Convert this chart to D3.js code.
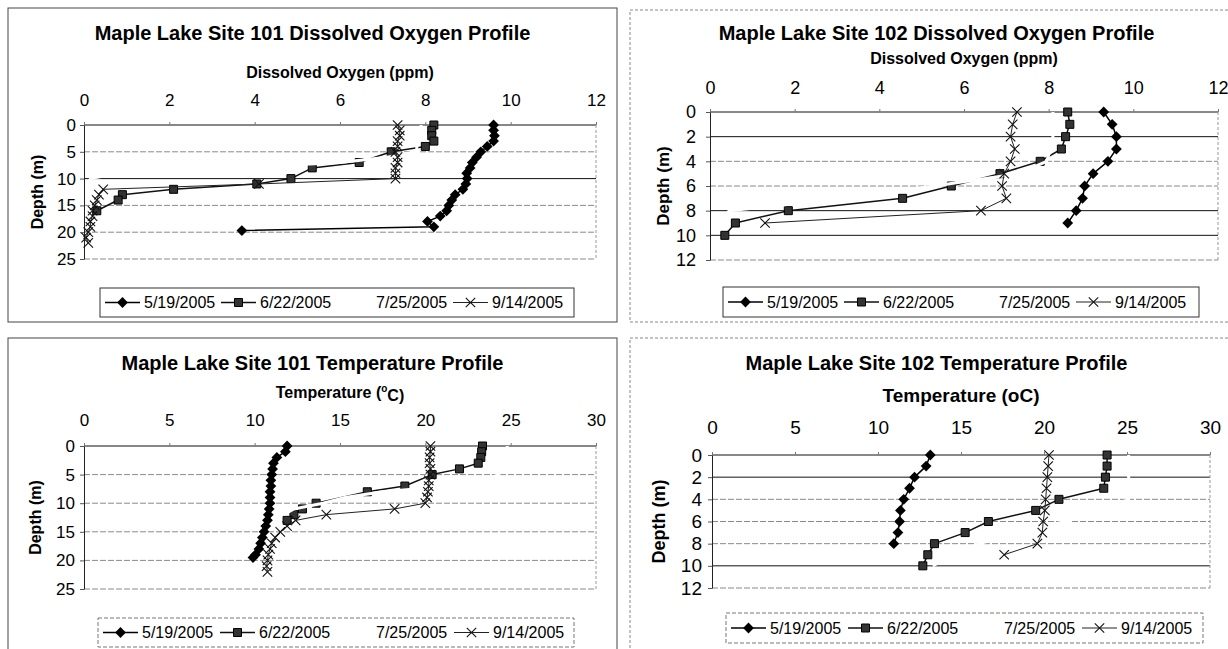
<!DOCTYPE html>
<html>
<head>
<meta charset="utf-8">
<script src="https://cdn.jsdelivr.net/npm/d3@7"></script>
<style>
    body { margin: 0; background: #fff; }
    svg { display: block; font-family: "Liberation Sans", Arial, sans-serif; }
</style>
</head>
<body>
<div id="chart"></div>
<script>
var seriesNames = ["5/19/2005", "6/22/2005", "7/25/2005", "9/14/2005"];

// [depth (m), value] pairs
// Site 101 dissolved oxygen (ppm)
var do101May = [[0,9.6],[1,9.6],[2,9.62],[3,9.6],[4,9.45],[5,9.3],[6,9.2],[7,9.1],[8,9.05],[9,8.97],
    [10,8.98],[11,8.95],[12,8.88],[13,8.7],[14,8.62],[15,8.55],[16,8.5],[17,8.35],[18,8.05],[19,8.2],[19.7,3.7]];
var do101Jun = [[0,8.2],[1,8.15],[2,8.15],[3,8.2],[4,8.0],[5,7.2],[7,6.45],[8,5.35],[10,4.85],[11,4.05],
    [12,2.1],[13,0.9],[14,0.8],[16,0.3]];
var do101Jul = [[0,7.9],[1,7.9],[2,7.9],[3,7.85],[4,7.8],[5,7.8],[6,7.1],[7,6.0],[8,3.5],[9,0.8],[10,0.15],[11,0.1],[12,0.1]];
var do101Sep = [[0,7.35],[1,7.4],[2,7.4],[3,7.35],[4,7.35],[5,7.3],[6,7.35],[7,7.35],[8,7.3],[9,7.3],[10,7.3],
    [11,4.1],[12,0.45],[13,0.35],[14,0.3],[15,0.25],[16,0.2],[17,0.2],[18,0.15],[19,0.15],[20,0.1],[21,0.05],[22,0.1]];

// Site 102 dissolved oxygen (ppm)
var do102May = [[0,9.3],[1,9.5],[2,9.6],[3,9.6],[4,9.4],[5,9.05],[6,8.85],[7,8.8],[8,8.65],[9,8.45]];
var do102Jun = [[0,8.45],[1,8.5],[2,8.4],[3,8.3],[4,7.8],[5,6.85],[6,5.7],[7,4.55],[8,1.85],[9,0.6],[10,0.35]];
var do102Jul = [[0,8.1],[1,8.1],[2,8.1],[3,8.05],[4,7.95],[5,7.3],[6,5.3],[7,3.2],[8,0.45],[9,0.3]];
var do102Sep = [[0,7.25],[1,7.15],[2,7.1],[3,7.2],[4,7.1],[5,6.95],[6,6.9],[7,7.0],[8,6.4],[9,1.3]];

// Site 101 temperature (C)
var temp101May = [[0,11.9],[1,11.8],[2,11.3],[3,11.1],[4,11.05],[5,11.0],[6,10.95],[7,10.95],[8,10.9],[9,10.9],
    [10,10.9],[11,10.85],[12,10.8],[13,10.75],[14,10.65],[15,10.55],[16,10.45],[17,10.35],[18,10.25],[19,10.05],[19.5,9.9]];
var temp101Jun = [[0,23.35],[1,23.3],[2,23.25],[3,23.1],[4,22.0],[5,20.4],[7,18.8],[8,16.6],[10,13.6],[11,12.8],[12,12.3],[13,11.9]];
var temp101Jul = [[0,24.8],[1,24.8],[2,24.7],[3,24.6],[4,24.5],[5,24.3],[6,23.5],[7,21.5],[8,17.5],[9,15.3],[10,14.0],[11,12.3],[12,11.7]];
var temp101Sep = [[0,20.3],[1,20.3],[2,20.25],[3,20.25],[4,20.3],[5,20.3],[6,20.2],[7,20.2],[8,20.15],[9,20.1],[10,20.0],
    [11,18.2],[12,14.2],[13,12.4],[14,11.9],[15,11.5],[16,11.2],[17,11.0],[18,10.9],[19,10.8],[20,10.75],[21,10.7],[22,10.75]];

// Site 102 temperature (C)
var temp102May = [[0,13.15],[1,12.9],[2,12.2],[3,11.9],[4,11.55],[5,11.35],[6,11.3],[7,11.2],[8,10.95]];
var temp102Jun = [[0,23.8],[1,23.8],[2,23.7],[3,23.6],[4,20.9],[5,19.5],[6,16.65],[7,15.25],[8,13.4],[9,13.0],[10,12.7]];
var temp102Jul = [[0,25.1],[1,25.1],[2,25.1],[3,25.1],[4,25.1],[5,23.5],[6,21.3],[7,18.5],[8,16.1],[9,14.5],[10,13.3]];
var temp102Sep = [[0,20.3],[1,20.25],[2,20.2],[3,20.15],[4,20.1],[5,20.05],[6,19.95],[7,19.9],[8,19.6],[9,17.6]];

var doTicks = [0, 2, 4, 6, 8, 10, 12];
var tempTicks = [0, 5, 10, 15, 20, 25, 30];
var depthTicks101 = [0, 5, 10, 15, 20, 25];
var depthTicks102 = [0, 2, 4, 6, 8, 10, 12];

var width = 1228, height = 649;

var svg = d3.select("#chart")
    .append("svg")
    .attr("width", width)
    .attr("height", height);

var panels = [
    {
        title: "Maple Lake Site 101 Dissolved Oxygen Profile", xTitle: ["Dissolved Oxygen (ppm)"],
        xTicks: doTicks, yTicks: depthTicks101, series: [do101May, do101Jun, do101Jul, do101Sep],
        frame: [8, 8, 617, 322], frameStroke: "#444", frameDash: null,
        plot: [84, 125, 596, 259], darkGrid: [0, 10],
        titleY: 33, xTitleY: 72, tickY: 100, depthX: 37, yPad: 4,
        legend: [100, 288, 574, 317], legendStep: 116, legendDash: null,
        fs: { title: 20, xTitle: 16, tick: 17, depth: 16 }
    },
    {
        title: "Maple Lake Site 102 Dissolved Oxygen Profile", xTitle: ["Dissolved Oxygen (ppm)"],
        xTicks: doTicks, yTicks: depthTicks102, series: [do102May, do102Jun, do102Jul, do102Sep],
        frame: [630, 10, 1243, 322], frameStroke: "#888", frameDash: "3,2",
        plot: [710, 112, 1218, 260], darkGrid: [0, 2, 8, 10],
        titleY: 33, xTitleY: 58, tickY: 88, depthX: 663, yPad: 10,
        legend: [723, 287, 1199, 317], legendStep: 116, legendDash: null,
        fs: { title: 20, xTitle: 16, tick: 18, depth: 17 }
    },
    {
        title: "Maple Lake Site 101 Temperature Profile", xTitle: ["Temperature (", "o", "C)"],
        xTicks: tempTicks, yTicks: depthTicks101, series: [temp101May, temp101Jun, temp101Jul, temp101Sep],
        frame: [8, 338, 617, 660], frameStroke: "#444", frameDash: null,
        plot: [84, 446, 596, 589], darkGrid: [0],
        titleY: 363, xTitleY: 392, tickY: 420, depthX: 35, yPad: 5,
        legend: [98, 618, 574, 647], legendStep: 117, legendDash: "4,2",
        fs: { title: 20, xTitle: 16, tick: 17, depth: 16 }
    },
    {
        title: "Maple Lake Site 102 Temperature Profile", xTitle: ["Temperature (oC)"],
        xTicks: tempTicks, yTicks: depthTicks102, series: [temp102May, temp102Jun, temp102Jul, temp102Sep],
        frame: [630, 338, 1243, 660], frameStroke: "#888", frameDash: "3,2",
        plot: [712, 455, 1210, 588], darkGrid: [0, 2, 10],
        titleY: 363, xTitleY: 395, tickY: 427, depthX: 659, yPad: 6,
        legend: [726, 613, 1203, 643], legendStep: 117, legendDash: "4,2",
        fs: { title: 20, xTitle: 19, tick: 19, depth: 18 }
    }
];

// one style per date: diamond, square, plain white line, x
var seriesStyle = [
    { stroke: "#000", width: 1.5, marker: "diamond" },
    { stroke: "#111", width: 1.5, marker: "square" },
    { stroke: "#fff", width: 3, marker: null },
    { stroke: "#222", width: 1, marker: "x" }
];

function markerPath(type) {
    if (type == "diamond") return d3.symbol(d3.symbolSquare, 58)();
    if (type == "square") return d3.symbol(d3.symbolSquare, 64)();
    return d3.symbol(d3.symbolX, 60)();
}

function addMarker(g, type, px, py) {
    var m = g.append("path")
        .attr("d", markerPath(type))
        .attr("transform", "translate(" + px + "," + py + ")" + (type == "diamond" ? " rotate(45)" : ""));
    if (type == "x") {
        m.attr("fill", "none").attr("stroke", "#111").attr("stroke-width", 1.1);
    } else if (type == "square") {
        m.attr("fill", "#333").attr("stroke", "#000").attr("stroke-width", 1);
    } else {
        m.attr("fill", "#000");
    }
}

function drawPanel(p) {
    var g = svg.append("g");
    var xMax = p.xTicks[p.xTicks.length - 1],
        yMax = p.yTicks[p.yTicks.length - 1];

    var x = d3.scaleLinear().domain([0, xMax]).range([p.plot[0], p.plot[2]]);
    var y = d3.scaleLinear().domain([0, yMax]).range([p.plot[1], p.plot[3]]);

    g.append("rect")
        .attr("x", p.frame[0]).attr("y", p.frame[1])
        .attr("width", p.frame[2] - p.frame[0])
        .attr("height", p.frame[3] - p.frame[1])
        .attr("fill", "none")
        .attr("stroke", p.frameStroke)
        .attr("stroke-dasharray", p.frameDash);

    // gridlines (scan makes some black, some grey dashed)
    g.selectAll(".grid")
        .data(p.yTicks)
        .enter().append("line")
        .attr("class", "grid")
        .attr("x1", x(0)).attr("x2", x(xMax))
        .attr("y1", function(d) { return y(d) })
        .attr("y2", function(d) { return y(d) })
        .attr("stroke", function(d) { return p.darkGrid.indexOf(d) >= 0 ? "#111" : "#8a8a8a" })
        .attr("stroke-dasharray", function(d) { return p.darkGrid.indexOf(d) >= 0 ? null : "6,2" });

    g.append("line")
        .attr("x1", x(xMax)).attr("x2", x(xMax))
        .attr("y1", y(0)).attr("y2", y(yMax))
        .attr("stroke", "#999")
        .attr("stroke-dasharray", "3,2");

    var top = g.append("g")
        .attr("transform", "translate(0," + y(0) + ")")
        .call(d3.axisTop(x).tickValues(p.xTicks).tickSize(3).tickSizeOuter(0));
    top.select(".domain").remove();
    top.selectAll(".tick line").attr("stroke", "#777");
    top.selectAll("text")
        .attr("y", p.tickY - y(0))
        .attr("dy", "0.35em")
        .attr("fill", "#000")
        .attr("font-size", p.fs.tick)
        .attr("font-family", "Liberation Sans, Arial, sans-serif");

    var left = g.append("g")
        .attr("transform", "translate(" + x(0) + ",0)")
        .call(d3.axisLeft(y).tickValues(p.yTicks).tickSize(4).tickSizeOuter(0).tickPadding(p.yPad));
    left.select(".domain").attr("stroke", "#222");
    left.selectAll(".tick line").attr("stroke", "#555");
    left.selectAll("text")
        .attr("fill", "#000")
        .attr("font-size", p.fs.tick)
        .attr("font-family", "Liberation Sans, Arial, sans-serif");

    // series, in legend order so the white line hides what lies under it
    var line = d3.line()
        .x(function(d) { return x(d[1]) })
        .y(function(d) { return y(d[0]) });

    p.series.forEach(function(data, i) {
        var st = seriesStyle[i];
        g.append("path")
            .datum(data)
            .attr("d", line)
            .attr("fill", "none")
            .attr("stroke", st.stroke)
            .attr("stroke-width", st.width)
            .attr("stroke-linejoin", "round");
        if (st.marker) {
            data.forEach(function(d) {
                addMarker(g, st.marker, x(d[1]), y(d[0]));
            });
        }
    });

    // titles
    var cx = (p.frame[0] + p.frame[2]) / 2;
    g.append("text")
        .attr("x", cx).attr("y", p.titleY)
        .attr("dy", "0.35em")
        .attr("text-anchor", "middle")
        .attr("font-weight", "bold")
        .attr("font-size", p.fs.title)
        .text(p.title);

    var xt = g.append("text")
        .attr("x", (p.plot[0] + p.plot[2]) / 2).attr("y", p.xTitleY)
        .attr("dy", "0.35em")
        .attr("text-anchor", "middle")
        .attr("font-weight", "bold")
        .attr("font-size", p.fs.xTitle);
    if (p.xTitle.length == 3) {
        xt.append("tspan").text(p.xTitle[0]);
        xt.append("tspan").attr("font-size", 10).attr("dy", "-0.6em").text(p.xTitle[1]);
        xt.append("tspan").attr("dy", "0.6em").text(p.xTitle[2]);
    } else {
        xt.text(p.xTitle[0]);
    }

    g.append("text")
        .attr("transform", "translate(" + p.depthX + "," + (p.plot[1] + p.plot[3]) / 2 + ") rotate(-90)")
        .attr("dy", "0.35em")
        .attr("text-anchor", "middle")
        .attr("font-weight", "bold")
        .attr("font-size", p.fs.depth)
        .text("Depth (m)");

    // legend
    var lg = p.legend;
    g.append("rect")
        .attr("x", lg[0]).attr("y", lg[1])
        .attr("width", lg[2] - lg[0]).attr("height", lg[3] - lg[1])
        .attr("fill", "#fff")
        .attr("stroke", p.legendDash ? "#777" : "#333")
        .attr("stroke-dasharray", p.legendDash);

    var ly = (lg[1] + lg[3]) / 2;
    seriesNames.forEach(function(name, i) {
        var lx = lg[0] + 5 + i * p.legendStep;
        var st = seriesStyle[i];
        g.append("line")
            .attr("x1", lx).attr("x2", lx + 35)
            .attr("y1", ly).attr("y2", ly)
            .attr("stroke", st.stroke)
            .attr("stroke-width", Math.min(st.width, 1.5));
        if (st.marker) addMarker(g, st.marker, lx + 17.5, ly);
        g.append("text")
            .attr("x", lx + 39).attr("y", ly)
            .attr("dy", "0.35em")
            .attr("font-size", 16)
            .text(name);
    });
}

panels.forEach(drawPanel);
</script>
</body>
</html>
